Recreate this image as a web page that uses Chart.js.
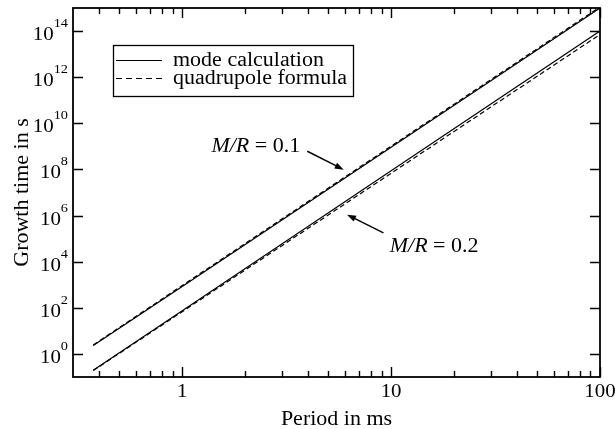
<!DOCTYPE html>
<html>
<head>
<meta charset="utf-8">
<script src="https://cdn.jsdelivr.net/npm/chart.js@4.4.1/dist/chart.umd.min.js"></script>
<style>
  html, body { margin: 0; padding: 0; background: #fff; }
  canvas { display: block; }
</style>
</head>
<body>
<canvas id="chart" width="615" height="429"></canvas>
<script>
// values (log-log, straight lines)
const periods = [0.375, 1, 10, 100];
const mode01 = [2.3, 850, 9.1e8, 1.0e15];
const quad01 = [2.45, 930, 1.02e9, 1.12e15];
const mode02 = [0.195, 75, 8.7e7, 1.0e14];
const quad02 = [0.19, 68, 6.8e7, 7.1e13];

const xTickValues = [1, 10, 100];
const xTickLabels = ["1", "10", "100"];
const xMinorTicks = [0.4, 0.5, 0.6, 0.7, 0.8, 0.9, 2, 3, 4, 5, 6, 7, 8, 9, 20, 30, 40, 50, 60, 70, 80, 90];
const yTickExponents = [0, 2, 4, 6, 8, 10, 12, 14];

const legendLabels = ["mode calculation", "quadrupole formula"];
const notes = [
  { text: "0.1", at: [3.67, 10 ** 8.77], align: "right", from: [3.97, 10 ** 8.79], to: [5.93, 10 ** 7.99] },
  { text: "0.2", at: [9.85, 10 ** 4.44], align: "left", from: [9.19, 10 ** 5.25], to: [6.15, 10 ** 6.04] }
];

const INK = "#000";
const SERIF = "'Liberation Serif', 'Times New Roman', serif";
const STRETCH = 1.1;

function toPoints(ys) {
  return periods.map((p, i) => ({ x: p, y: ys[i] }));
}

function textWidth(ctx, text, font) {
  ctx.font = font;
  return ctx.measureText(text).width * STRETCH;
}

function drawText(ctx, text, x, y, font, align = "left", baseline = "alphabetic") {
  ctx.save();
  ctx.translate(x, y);
  ctx.scale(STRETCH, 1);
  ctx.font = font;
  ctx.textAlign = align;
  ctx.textBaseline = baseline;
  ctx.fillText(text, 0, 0);
  ctx.restore();
}

function arrow(ctx, x1, y1, x2, y2) {
  const ang = Math.atan2(y2 - y1, x2 - x1);
  const len = 9, half = 3.2;
  ctx.lineWidth = 1.5;
  ctx.beginPath();
  ctx.moveTo(x1, y1);
  ctx.lineTo(x2 - Math.cos(ang) * len * 0.8, y2 - Math.sin(ang) * len * 0.8);
  ctx.stroke();
  ctx.beginPath();
  ctx.moveTo(x2, y2);
  ctx.lineTo(x2 - Math.cos(ang) * len - Math.sin(ang) * half, y2 - Math.sin(ang) * len + Math.cos(ang) * half);
  ctx.lineTo(x2 - Math.cos(ang) * len + Math.sin(ang) * half, y2 - Math.sin(ang) * len - Math.cos(ang) * half);
  ctx.closePath();
  ctx.fill();
}

const decorations = {
  id: "decorations",
  afterDatasetsDraw(chart) {
    const { ctx, chartArea: a, scales: { x, y } } = chart;
    ctx.save();
    ctx.strokeStyle = INK;
    ctx.fillStyle = INK;

    // frame
    ctx.lineWidth = 1.8;
    ctx.strokeRect(a.left, a.top, a.right - a.left, a.bottom - a.top);

    // inward ticks
    ctx.lineWidth = 1.4;
    ctx.beginPath();
    xMinorTicks.forEach((v) => {
      const px = Math.round(x.getPixelForValue(v)) + 0.5;
      ctx.moveTo(px, a.bottom); ctx.lineTo(px, a.bottom - 6);
      ctx.moveTo(px, a.top); ctx.lineTo(px, a.top + 6);
    });
    xTickValues.forEach((v) => {
      const px = Math.round(x.getPixelForValue(v)) + 0.5;
      ctx.moveTo(px, a.bottom); ctx.lineTo(px, a.bottom - 10);
      ctx.moveTo(px, a.top); ctx.lineTo(px, a.top + 10);
    });
    yTickExponents.forEach((e) => {
      const py = Math.round(y.getPixelForValue(10 ** e)) + 0.5;
      ctx.moveTo(a.left, py); ctx.lineTo(a.left + 10, py);
      ctx.moveTo(a.right, py); ctx.lineTo(a.right - 10, py);
    });
    ctx.stroke();

    // tick labels
    const tickFont = "19px " + SERIF;
    const supFont = "13px " + SERIF;
    xTickValues.forEach((v, i) => {
      drawText(ctx, xTickLabels[i], x.getPixelForValue(v), a.bottom + 20, tickFont, "center");
    });
    yTickExponents.forEach((e) => {
      const py = y.getPixelForValue(10 ** e);
      const right = a.left - 5;
      const sup = String(e);
      const sw = textWidth(ctx, sup, supFont);
      drawText(ctx, sup, right, py - 4, supFont, "right");
      drawText(ctx, "10", right - sw, py + 9, tickFont, "right");
    });

    // axis titles
    const titleFont = "20px " + SERIF;
    drawText(ctx, "Period in ms", (a.left + a.right) / 2, a.bottom + 48, titleFont, "center");
    ctx.save();
    ctx.translate(23, (a.top + a.bottom) / 2);
    ctx.rotate(-Math.PI / 2);
    drawText(ctx, "Growth time in s", 0, 0, titleFont, "center", "middle");
    ctx.restore();

    // legend
    const lx = a.left + 40, ly = a.top + 37;
    ctx.lineWidth = 1.3;
    ctx.strokeRect(lx + 0.5, ly + 0.5, 240, 51);
    ctx.lineWidth = 1.2;
    legendLabels.forEach((label, i) => {
      const ry = ly + 15 + i * 18;
      ctx.setLineDash(i === 0 ? [] : [6, 4]);
      ctx.beginPath();
      ctx.moveTo(lx + 3, ry + 0.5);
      ctx.lineTo(lx + 49, ry + 0.5);
      ctx.stroke();
      ctx.setLineDash([]);
      drawText(ctx, label, lx + 60, ry + 6, titleFont, "left");
    });

    // annotations
    const italic = "italic 20px " + SERIF;
    notes.forEach((n) => {
      const tx = x.getPixelForValue(n.at[0]);
      const ty = y.getPixelForValue(n.at[1]);
      const rest = " = " + n.text;
      const w1 = textWidth(ctx, "M/R", italic);
      const w2 = textWidth(ctx, rest, titleFont);
      const left = n.align === "right" ? tx - w1 - w2 : tx;
      drawText(ctx, "M/R", left, ty, italic, "left");
      drawText(ctx, rest, left + w1, ty, titleFont, "left");
      arrow(ctx,
        x.getPixelForValue(n.from[0]), y.getPixelForValue(n.from[1]),
        x.getPixelForValue(n.to[0]), y.getPixelForValue(n.to[1]));
    });

    ctx.restore();
  }
};

function lineSet(label, ys, dashed) {
  return {
    label,
    data: toPoints(ys),
    borderColor: INK,
    borderWidth: 1.2,
    borderDash: dashed ? [5, 3] : [],
    pointRadius: 0,
    tension: 0,
    fill: false
  };
}

new Chart(document.getElementById("chart"), {
  type: "line",
  data: {
    datasets: [
      lineSet("mode calculation, M/R = 0.1", mode01, false),
      lineSet("quadrupole formula, M/R = 0.1", quad01, true),
      lineSet("mode calculation, M/R = 0.2", mode02, false),
      lineSet("quadrupole formula, M/R = 0.2", quad02, true)
    ]
  },
  options: {
    responsive: false,
    animation: false,
    devicePixelRatio: 1,
    layout: { padding: { top: 8, right: 15, left: 0, bottom: 0 } },
    plugins: { legend: { display: false }, tooltip: { enabled: false } },
    scales: {
      x: {
        type: "logarithmic",
        min: 0.313,
        max: 100,
        ticks: { display: false },
        grid: { display: false, drawTicks: false },
        border: { display: false },
        afterFit: (s) => { s.height = 52; }
      },
      y: {
        type: "logarithmic",
        min: 0.1,
        max: 1e15,
        ticks: { display: false },
        grid: { display: false, drawTicks: false },
        border: { display: false },
        afterFit: (s) => { s.width = 73; }
      }
    }
  },
  plugins: [decorations]
});
</script>
</body>
</html>
